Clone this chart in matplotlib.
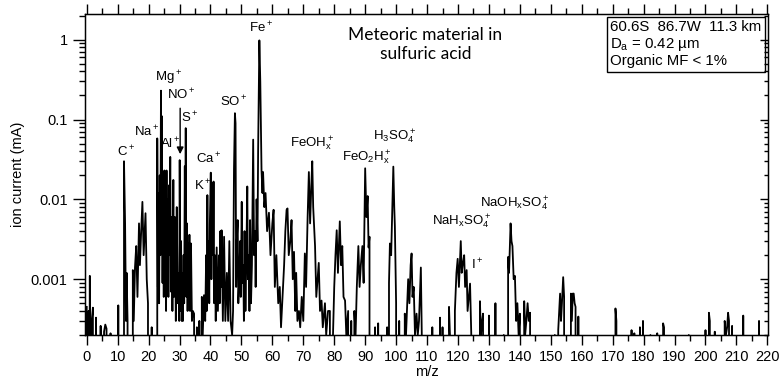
import matplotlib
matplotlib.use('Agg')
import matplotlib.pyplot as plt
from matplotlib.ticker import FixedLocator, FuncFormatter, LogLocator, NullFormatter, MultipleLocator

plt.rcParams['font.family'] = ['Liberation Sans', 'DejaVu Sans']
plt.rcParams['mathtext.fontset'] = 'custom'
plt.rcParams['mathtext.rm'] = 'Liberation Sans'
plt.rcParams['mathtext.it'] = 'Liberation Sans'

# spectrum: m/z and ion current (mA), 0 = below the axis
mz = [0.0, 0.3, 0.6, 0.9, 1.0, 1.3, 1.6, 2.0, 2.3, 3.0, 3.3, 4.5, 4.8, 5.6, 6.0, 6.4, 6.7,
      7.7, 8.0, 10.2, 10.5, 11.9, 12.05, 12.4, 12.7, 12.9, 13.2, 13.6, 14.9, 15.2, 15.6,
      16.0, 16.4, 16.9, 17.2, 17.6, 18.0, 18.4, 19.0, 19.4, 19.8, 20.2, 21.0, 21.3,
      22.6, 22.8, 23.0, 23.2, 23.4, 23.6, 23.8, 24.0, 24.15, 24.3,
      24.5, 24.7, 24.9, 25.1, 25.3, 25.5, 25.65, 25.8, 26.0, 26.2,
      26.4, 26.6, 26.8, 27.0, 27.2, 27.5, 27.7, 28.0, 28.2, 28.5,
      28.8, 29.1, 29.4, 29.7, 29.9, 30.05, 30.3, 30.5, 30.7, 30.9,
      31.1, 31.3, 31.5, 31.7, 31.85, 32.0, 32.2, 32.4, 32.6, 32.8,
      33.0, 33.2, 33.4, 33.7, 34.0, 34.3, 34.7, 35.0, 35.6, 36.0,
      36.4, 36.8, 37.2, 37.5, 37.9, 38.3, 38.6, 38.8,
      39.0, 39.2, 39.4, 39.6, 39.8, 40.1, 40.3, 40.5, 40.7, 40.85,
      41.0, 41.2, 41.4, 41.7, 42.0, 42.4, 42.8, 43.0, 43.2, 43.4,
      43.6, 44.0, 44.4, 44.8, 45.3, 45.7, 46.1, 46.5, 47.0, 47.3,
      47.6, 47.9, 48.1, 48.3, 48.5, 48.8, 49.0, 49.3, 49.6, 49.8,
      50.1, 50.3, 50.6, 50.8, 51.0, 51.3, 51.6, 51.9, 52.1, 52.4,
      52.6, 52.8, 53.1, 53.4, 53.8, 54.1, 54.4, 54.6, 54.9, 55.2,
      55.4, 55.8, 56.1,
      56.5, 56.8, 57.0, 57.4, 57.8, 58.3, 58.9, 59.4, 60.0, 60.4, 60.8, 61.3, 61.9,
      62.4, 62.8, 63.3, 63.8, 64.2, 64.6, 64.9, 65.3, 65.8, 66.2, 66.6, 67.0, 67.4, 67.7,
      68.1, 68.6, 69.0, 69.5, 70.0, 70.5, 70.9, 71.4, 71.8, 72.2, 72.6, 72.9, 73.2, 73.8,
      74.2, 75.0, 75.4, 75.9, 76.3, 77.0, 77.4, 78.0, 78.6, 79.0, 79.6, 80.0, 80.4, 80.8,
      81.2, 81.8, 82.2, 82.6, 83.0, 83.5, 83.9, 84.5, 84.9, 85.5, 85.9, 86.5, 86.9, 87.3,
      87.8, 88.2, 88.6, 89.1, 89.5, 90.0, 90.4, 90.8, 91.1, 91.4, 91.8, 92.8, 93.2, 93.5,
      94.2, 94.5, 96.8, 97.1, 97.4, 97.7, 98.0, 98.4, 98.7, 99.1, 99.4, 99.6, 100.0, 100.4,
      101.0, 101.3, 102.4, 102.8, 103.2, 103.9, 104.3, 104.7, 105.0, 105.3, 105.7, 106.1,
      106.6, 107.0, 107.4, 108.0, 108.3, 108.6, 110.8, 111.7, 112.0, 113.8, 114.2, 114.5,
      115.0, 115.3, 116.6, 117.1, 117.4, 117.7, 118.7, 119.0, 119.5, 119.9, 120.3, 120.6,
      120.9, 121.2, 121.6, 122.0, 122.3, 122.8, 123.1, 123.5, 123.9, 124.3, 124.6, 126.7,
      127.1, 127.4, 127.8, 128.1, 128.4, 129.6, 130.0, 130.3, 131.7, 132.1, 132.4, 134.5,
      134.8, 135.0, 135.8, 136.2, 136.5, 137.0, 137.3, 137.6, 138.0, 138.4, 138.8, 139.2,
      139.6, 140.0, 140.3, 141.0, 141.4, 141.7, 142.1, 142.5, 142.9, 143.3, 143.6, 150.9,
      151.3, 151.6, 152.2, 152.4, 152.7, 153.0, 153.3, 153.6, 154.0, 154.3, 154.6, 156.1,
      156.5, 156.8, 157.1, 157.4, 157.7, 158.0, 158.3, 158.6, 158.9, 159.2, 170.6, 170.9,
      171.2, 171.5, 175.8, 176.1, 176.4, 177.0, 177.2, 178.5, 178.8, 179.1, 179.5, 179.8,
      180.1, 182.0, 182.2, 182.4, 184.2, 184.4, 184.6, 186.0, 186.3, 186.6, 186.9, 194.5,
      194.6, 194.8, 199.8, 200.0, 200.3, 200.8, 201.1, 201.4, 201.7, 202.8, 203.0, 203.2,
      206.0, 206.2, 206.6, 207.0, 207.3, 207.6, 208.0, 208.4, 208.6, 208.9, 212.0, 212.2,
      212.5, 217.1, 217.3, 217.6, 220.0]
ion = [4.5e-4, 0, 4e-4, 0, 1.1e-3, 0, 3e-4, 4.4e-4, 0, 3.3e-4, 0, 2.6e-4, 0, 2.2e-4, 2.7e-4, 2.4e-4, 0,
       2.1e-4, 0, 4.7e-4, 0, 0, 0.03, 0.005, 3e-4, 1.2e-3, 3e-4, 0, 1.3e-3, 3e-4, 1.4e-3,
       2.6e-3, 6e-4, 5e-3, 1.5e-3, 4e-3, 9.3e-3, 2e-3, 6.7e-3, 1e-3, 5e-4, 0, 2.5e-4, 0,
       0, 0.058, 8e-4, 0.012, 5e-4, 0.02, 0.002, 0.23, 0.003, 0.11,
       9e-4, 0.02, 6e-4, 0.023, 8e-4, 0.012, 4e-4, 0.023, 0.001, 0.01,
       6e-4, 0.015, 0.002, 0.034, 7e-4, 0.006, 4e-4, 0.0175, 6e-4, 0.006,
       3e-4, 0.008, 5e-4, 0.0012, 3e-4, 0.031, 4e-4, 0.003, 3e-4, 0.0012,
       3e-4, 0.002, 5e-4, 0.026, 0.002, 0.078, 6e-4, 0.005, 4e-4, 0.0028,
       6e-4, 0.0036, 4e-4, 0.0028, 3e-4, 4e-4, 3.7e-4, 0, 2.5e-4, 0,
       3e-4, 0, 6e-4, 2e-4, 6.3e-4, 3e-4, 0.002, 4e-4,
       0.0113, 8e-4, 0.003, 5e-4, 0.005, 0.0216, 0.001, 0.006, 0.016, 0.002,
       0.0167, 5e-4, 0.002, 3e-4, 0.0025, 4e-4, 0.002, 5e-4, 0.004, 8e-4,
       0.0041, 3e-4, 0.0034, 3e-4, 0.0012, 3e-4, 0.003, 3e-4, 2e-4, 4e-4,
       0.024, 0.12, 0.09, 8e-4, 0.003, 0.0055, 5e-4, 0.001, 0.003, 6e-4,
       0.0093, 9e-4, 0.0015, 3e-4, 0.004, 4e-4, 0.002, 0.0145, 0.001, 0.002,
       4e-4, 0.0055, 5e-4, 0.0015, 0.056, 0.002, 0.004, 8e-4, 0.01, 0.003,
       0.04, 0.98, 0.3,
       0.023, 0.012, 0.022, 0.008, 0.012, 0.004, 0.0068, 0.002, 0.005, 0.0074, 8e-4, 0.002, 5e-4,
       8e-4, 2.5e-4, 6e-4, 0.0015, 0.004, 0.0074, 0.0077, 0.002, 0.003, 0.0055, 0.001, 0.0022, 4e-4, 0.0012,
       3e-4, 4e-4, 2.5e-4, 6e-4, 3e-4, 0.0021, 8e-4, 0.006, 0.022, 0.005, 0.015, 0.03, 0.008, 0.0026,
       6e-4, 0.0016, 4e-4, 5.4e-4, 2.5e-4, 5e-4, 2e-4, 4e-4, 4e-4, 0, 2e-4, 8e-4, 0.002, 0.0041,
       0.0012, 0.0053, 0.0015, 0.0026, 6e-4, 5.4e-4, 2e-4, 4e-4, 0, 3e-4, 0, 4e-4, 2e-4, 8e-4,
       0.0026, 8e-4, 0.0015, 0.0026, 9e-4, 0.0245, 0.006, 0.011, 0.0025, 0.0034, 0, 0, 2.5e-4, 0,
       2.8e-4, 0, 0, 2.5e-4, 0, 9e-4, 0.0028, 0.002, 0.006, 0.0257, 0.008, 0.0046, 5e-4, 0,
       3e-4, 0, 0, 3.7e-4, 2e-4, 0.001, 5e-4, 0.0015, 0.0021, 6e-4, 8e-4, 2e-4,
       3.7e-4, 2e-4, 3e-4, 0.0014, 2e-4, 0, 0, 2.5e-4, 0, 0, 3.3e-4, 0,
       2.5e-4, 0, 0, 4.5e-4, 2e-4, 0, 0, 4e-4, 0.0012, 0.0018, 8e-4, 0.0015,
       0.003, 0.0012, 0.0016, 0.002, 8e-4, 0.0013, 4e-4, 6e-4, 8.8e-4, 2e-4, 0, 0,
       5.3e-4, 2e-4, 3e-4, 3.7e-4, 0, 0, 3.5e-4, 0, 0, 5e-4, 0, 0,
       2e-4, 0, 0, 0.0019, 0.0012, 0.005, 0.003, 0.0026, 0.001, 0.0011, 3e-4, 5e-4,
       2e-4, 3.7e-4, 0, 0, 5.3e-4, 2e-4, 3e-4, 5e-4, 3e-4, 3.8e-4, 0, 0,
       2e-4, 0, 0, 2.3e-4, 4e-4, 6.6e-4, 3e-4, 5e-4, 1.06e-3, 6e-4, 0, 0,
       6.6e-4, 3e-4, 6.6e-4, 6.6e-4, 5e-4, 4.5e-4, 0, 0, 3.4e-4, 0, 0, 4.3e-4,
       3e-4, 0, 0, 2.3e-4, 0, 2.1e-4, 0, 0, 2.5e-4, 0, 0, 3e-4,
       0, 0, 2e-4, 0, 0, 2.1e-4, 0, 0, 2.8e-4, 2.5e-4, 0, 0,
       2e-4, 0, 0, 2.3e-4, 0, 0, 3.8e-4, 3e-4, 0, 0, 2.2e-4, 0,
       0, 3e-4, 2e-4, 2.5e-4, 3.8e-4, 3e-4, 0, 0, 2.6e-4, 0, 0, 3.5e-4,
       0, 0, 3e-4, 0, 0]

# peak labels: text, m/z, ion current
labels = ['C$^+$', 'Na$^+$', 'Mg$^+$', 'Al$^+$', 'NO$^+$', 'S$^+$', 'K$^+$', 'Ca$^+$',
          'SO$^+$', 'Fe$^+$', 'FeOH$_x^+$', 'FeO$_2$H$_x^+$', 'H$_3$SO$_4^+$',
          'NaH$_x$SO$_4^+$', 'I$^+$', 'NaOH$_x$SO$_4^+$']
label_mz = [12.7, 19.4, 26.3, 26.9, 30.7, 33.4, 37.5, 39.3, 47.4, 56.5, 72.7, 90.5, 99.6,
            121.2, 126.2, 138.4]
label_ion = [0.039, 0.071, 0.33, 0.05, 0.204, 0.105, 0.0147, 0.032, 0.168, 1.40, 0.05, 0.033,
             0.061, 0.0052, 0.0015, 0.0089]

fig = plt.figure(figsize=(7.8, 3.88), dpi=100)
ax = fig.add_axes([0.109, 0.1366, 0.876, 0.8274])
ax.plot(mz, ion, '-', color='black', lw=1.3)
ax.set_yscale('log', nonpositive='clip')
ax.set_xlim(-0.55, 220.3)
ax.set_ylim(0.0002, 2.1)

ax.xaxis.set_major_locator(MultipleLocator(10))
ax.xaxis.set_minor_locator(MultipleLocator(5))
ax.yaxis.set_major_locator(FixedLocator([0.001, 0.01, 0.1, 1]))
ax.yaxis.set_major_formatter(FuncFormatter(lambda v, p: '%g' % v))
ax.yaxis.set_minor_locator(LogLocator(base=10, subs=range(2, 10)))
ax.yaxis.set_minor_formatter(NullFormatter())
ax.tick_params(axis='x', which='both', direction='out', top=True, labelsize=10.5)
ax.tick_params(axis='x', which='major', length=7, width=1)
ax.tick_params(axis='x', which='minor', length=4, width=1)
ax.tick_params(axis='y', which='major', direction='out', length=9, width=1, labelsize=10.5)
ax.tick_params(axis='y', which='minor', direction='out', length=4, width=1)
for s in ax.spines.values():
    s.set_linewidth(1.0)

# right side ticks point inward
ax2 = ax.twinx()
ax2.set_yscale('log')
ax2.set_ylim(ax.get_ylim())
ax2.yaxis.set_major_locator(FixedLocator([0.001, 0.01, 0.1, 1]))
ax2.yaxis.set_minor_locator(LogLocator(base=10, subs=range(2, 10)))
ax2.yaxis.set_major_formatter(NullFormatter())
ax2.yaxis.set_minor_formatter(NullFormatter())
ax2.tick_params(axis='y', which='major', direction='in', length=6, width=1)
ax2.tick_params(axis='y', which='minor', direction='in', length=3, width=1)

ax.set_xlabel('m/z', fontsize=10.5, labelpad=1)
ax.set_ylabel('ion current (mA)', fontsize=10.5, labelpad=4)

for t, x, y in zip(labels, label_mz, label_ion):
    ax.text(x, y, t, fontsize=9.5, ha='center', va='center')
ax.annotate('', xy=(30.2, 0.034), xytext=(30.2, 0.15),
            arrowprops=dict(arrowstyle='-|>', color='black', lw=1, mutation_scale=10))

ax.text(0.498, 0.96, 'Meteoric material in\nsulfuric acid', transform=ax.transAxes,
        family=['Lato', 'DejaVu Sans'], fontsize=12.5, ha='center', va='top', linespacing=1.25)
ax.text(0.769, 0.98, '60.6S  86.7W  11.3 km\nD$_a$ = 0.42 \u00b5m\nOrganic MF < 1%',
        transform=ax.transAxes, fontsize=10.8, ha='left', va='top', linespacing=1.12,
        bbox=dict(boxstyle='square,pad=0.25', fc='white', ec='black', lw=1))

fig.savefig('out.png', dpi=100)
